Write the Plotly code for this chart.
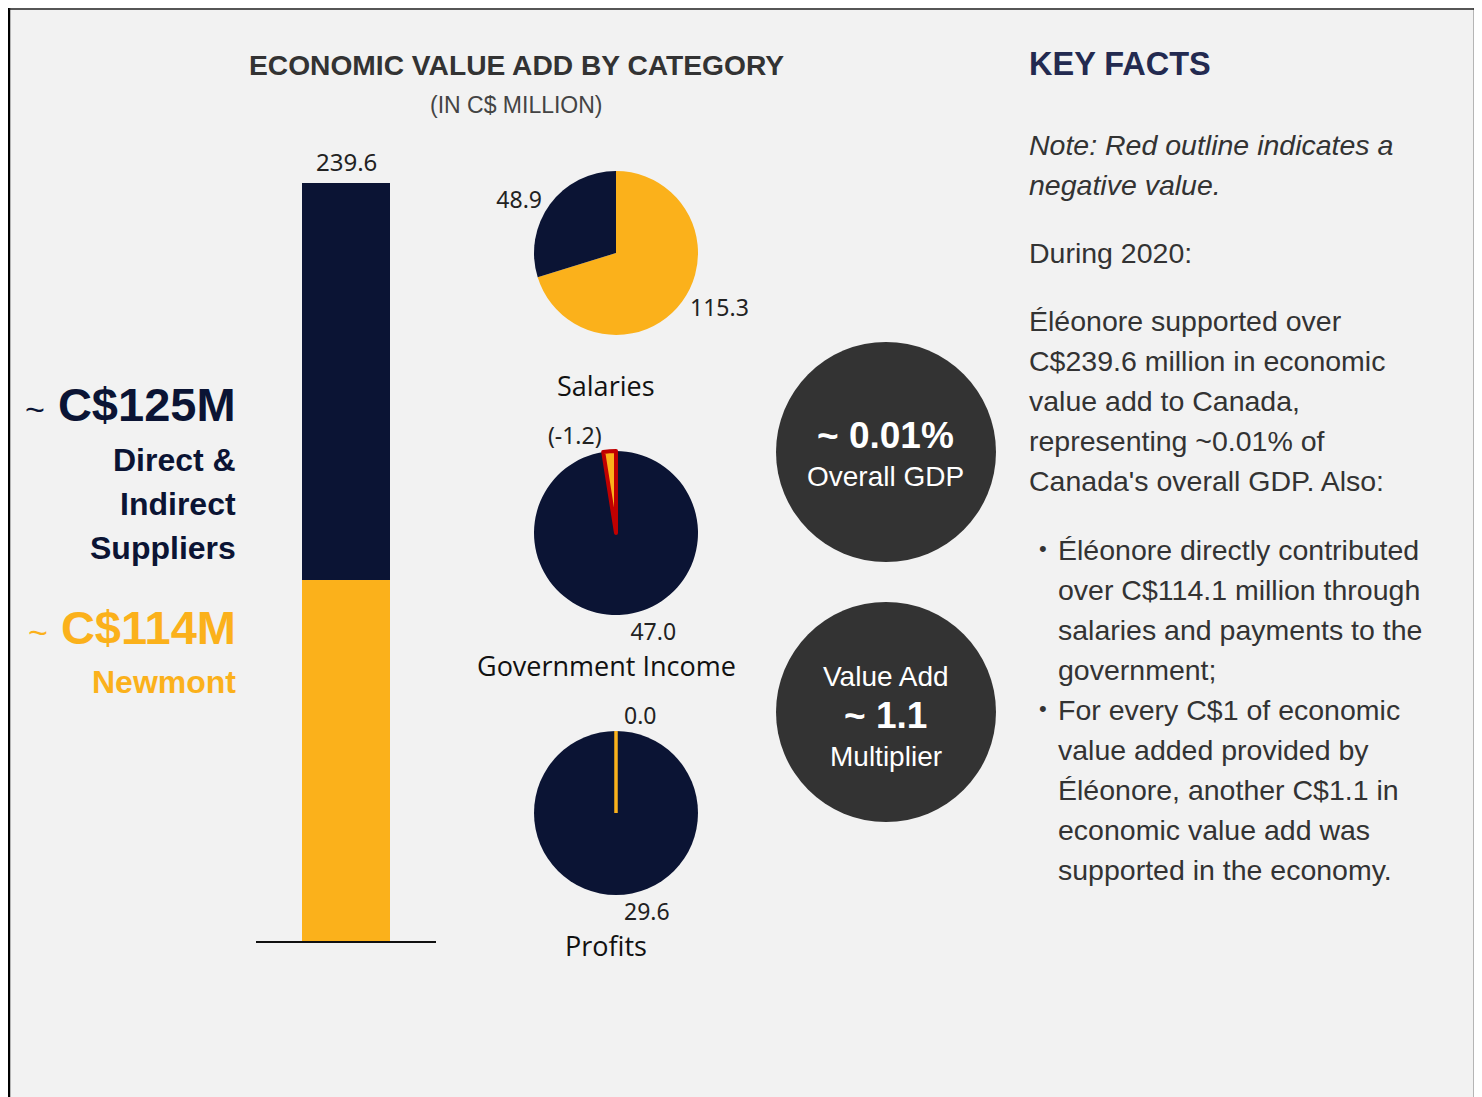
import plotly.graph_objects as go

# ---- data ----
segments = ["Newmont", "Direct & Indirect Suppliers"]
pie_titles = ["Salaries", "Government Income", "Profits"]
newmont_vals = [115.3, -1.2, 0.0]
supplier_vals = [48.9, 47.0, 29.6]
gdp_share = "0.01%"
multiplier = "1.1"

NAVY = "#0b1434"
GOLD = "#fbb11b"
RED = "#c00000"
BG = "#f2f2f2"
TXT = "#333333"
SANS = "Liberation Sans, Arial"

# page puts the plot 8px in from the top-left corner
OFF = 8
W, H = 1482 - OFF, 1097 - OFF


def px(x):
    return (x - OFF) / W


def py(y):
    return 1 - (y - OFF) / H


def note(x, y, text, size, color=TXT, family=SANS, xanchor="center"):
    fig.add_annotation(x=px(x), y=py(y), xref="paper", yref="paper", text=text,
                       showarrow=False, xanchor=xanchor, yanchor="middle",
                       font=dict(family=family, size=size, color=color))


newmont_total = round(sum(newmont_vals), 1)
supplier_total = round(sum(supplier_vals), 1)
grand_total = round(newmont_total + supplier_total, 1)

fig = go.Figure()

# stacked bar (bottom: Newmont, top: suppliers)
fig.add_trace(go.Bar(x=[0], y=[newmont_total], marker_color=GOLD, width=0.978,
                     marker_line_width=0, hoverinfo="skip", name=segments[0]))
fig.add_trace(go.Bar(x=[0], y=[supplier_total], marker_color=NAVY, width=0.978,
                     marker_line_width=0, hoverinfo="skip", name=segments[1]))
fig.add_annotation(x=0, y=grand_total, xref="x", yref="y", text=f"{grand_total:.1f}",
                   showarrow=False, yanchor="bottom", yshift=3,
                   font=dict(family="Noto Sans", size=24, color="#222"))

# three pies
PCX = 616
centers = [253, 533, 813]
R = 82
for i, title in enumerate(pie_titles):
    nv, sv = newmont_vals[i], supplier_vals[i]
    vals = [abs(nv), sv]
    texts = [f"({nv:.1f})" if nv < 0 else f"{nv:.1f}", f"{sv:.1f}"]
    cols = [GOLD, NAVY]
    lcol = [RED if nv < 0 else GOLD, NAVY]
    lw = [4 if nv < 0 else 0, 0]
    if nv < 0:
        # negative slice sits just left of 12 o'clock, drawn on top
        vals, texts, cols, lcol, lw = vals[::-1], texts[::-1], cols[::-1], lcol[::-1], lw[::-1]
    cy = centers[i]
    fig.add_trace(go.Pie(
        values=vals, text=texts, textinfo="text",
        textposition="outside", sort=False, direction="clockwise", rotation=0,
        marker=dict(colors=cols, line=dict(color=lcol, width=lw)),
        textfont=dict(family="Noto Sans", size=23, color="#222"),
        domain=dict(x=[px(PCX - R), px(PCX + R)], y=[py(cy + R), py(cy - R)]),
        hoverinfo="skip", showlegend=False,
    ))
    if nv == 0:
        # zero-size slice: show its edge as a radius stroke at 12 o'clock
        fig.add_shape(type="line", xref="paper", yref="paper", layer="above",
                      x0=px(PCX), x1=px(PCX), y0=py(cy), y1=py(cy - R),
                      line=dict(color=GOLD, width=3.5))
    note(606, cy + 132, title, 27, "#111", "Open Sans")

# titles
note(516, 65, "<b>ECONOMIC VALUE ADD BY CATEGORY</b>", 28.2, TXT)
note(516, 105, "(IN C$ MILLION)", 23, "#444")

# left labels
tilde = "<span style='font-size:34px'>~</span>"
left = [
    (405, f"{tilde} <b>C${int(supplier_total)}M</b>", 47, NAVY),
    (460, "<b>Direct &</b>", 32, NAVY),
    (504, "<b>Indirect</b>", 32, NAVY),
    (548, "<b>Suppliers</b>", 32, NAVY),
    (627, f"{tilde} <b>C${int(newmont_total)}M</b>", 47, GOLD),
    (682, "<b>Newmont</b>", 32, GOLD),
]
for y, t, s, c in left:
    note(238, y, t, s, c, xanchor="right")

# key stat circles
for cy in (452, 712):
    fig.add_shape(type="circle", xref="paper", yref="paper",
                  x0=px(776), x1=px(996), y0=py(cy + 110), y1=py(cy - 110),
                  fillcolor="#333333", line=dict(width=0), layer="below")
circle_text = [
    (435, f"<b>~ {gdp_share}</b>", 37),
    (476, "Overall GDP", 28),
    (676, "Value Add", 28),
    (715, f"<b>~ {multiplier}</b>", 37),
    (756, "Multiplier", 28),
]
for y, t, s in circle_text:
    note(886, y, t, s, "white")

# key facts panel
note(1027, 64, "<b>KEY FACTS</b>", 32.5, "#232a50", xanchor="left")
facts = [
    (145, "<i>Note: Red outline indicates a</i>", 1027),
    (185, "<i>negative value.</i>", 1027),
    (253, "During 2020:", 1027),
    (321, "Éléonore supported over", 1027),
    (361, f"C${grand_total:.1f} million in economic", 1027),
    (401, "value add to Canada,", 1027),
    (441, f"representing ~{gdp_share} of", 1027),
    (481, "Canada's overall GDP. Also:", 1027),
    (550, "Éléonore directly contributed", 1056),
    (590, f"over C${newmont_total:.1f} million through", 1056),
    (630, "salaries and payments to the", 1056),
    (670, "government;", 1056),
    (710, "For every C$1 of economic", 1056),
    (750, "value added provided by", 1056),
    (790, f"Éléonore, another C${multiplier} in", 1056),
    (830, "economic value add was", 1056),
    (870, "supported in the economy.", 1056),
]
for y, t, x in facts:
    note(x, y, t, 28.5, xanchor="left")
for y in (550, 710):
    note(1043, y - 2, "•", 22)

# frame
fig.add_shape(type="line", xref="paper", yref="paper", x0=px(9), x1=px(9), y0=0, y1=1,
              line=dict(color="black", width=2.5))
fig.add_shape(type="line", xref="paper", yref="paper", x0=px(1475), x1=px(1475), y0=0, y1=1,
              line=dict(color="black", width=2.5))
fig.add_shape(type="line", xref="paper", yref="paper", x0=px(9), x1=px(1475), y0=py(9), y1=py(9),
              line=dict(color="#222", width=1.5))

fig.update_layout(
    width=W, height=H, margin=dict(l=0, r=0, t=0, b=0),
    paper_bgcolor=BG, plot_bgcolor=BG, barmode="stack", showlegend=False,
    xaxis=dict(domain=[px(256), px(436)], range=[-1, 1], showgrid=False, zeroline=False,
               showticklabels=False, showline=True, linecolor="#111", linewidth=2,
               fixedrange=True),
    yaxis=dict(domain=[py(941), py(183)], range=[0, grand_total], visible=False,
               fixedrange=True),
)

fig.write_html("out.html")
